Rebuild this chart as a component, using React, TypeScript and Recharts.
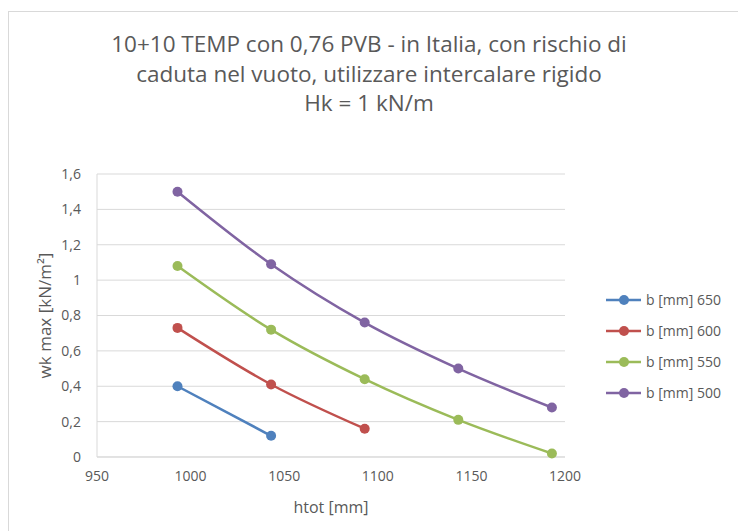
import { LineChart, Line, XAxis, YAxis, CartesianGrid } from "recharts";

const FONT = "'Open Sans', 'Liberation Sans', sans-serif";
const TEXT = "#595959";

const titleLines = [
  "10+10 TEMP con 0,76 PVB - in Italia, con rischio di",
  "caduta nel vuoto, utilizzare intercalare rigido",
  "Hk = 1 kN/m"
];

const xTicks = [950, 1000, 1050, 1100, 1150, 1200];
const yTicks = [0, 0.2, 0.4, 0.6, 0.8, 1, 1.2, 1.4, 1.6];

const htot = [993, 1043, 1093, 1143, 1193];

const b650 = [0.4, 0.12];
const b600 = [0.73, 0.41, 0.16];
const b550 = [1.08, 0.72, 0.44, 0.21, 0.02];
const b500 = [1.5, 1.09, 0.76, 0.5, 0.28];

const seriesNames = ["b [mm] 650", "b [mm] 600", "b [mm] 550", "b [mm] 500"];
const seriesColors = ["#4F81BD", "#C0504D", "#9BBB59", "#8064A2"];
const seriesValues = [b650, b600, b550, b500];

const series = seriesValues.map((vals, i) => ({
  name: seriesNames[i],
  color: seriesColors[i],
  data: vals.map((y, j) => ({ x: htot[j], y }))
}));

const fmt = (v: number) => String(v).replace(".", ",");

function LegendBox() {
  return (
    <div
      style={{
        position: "absolute",
        left: 606,
        top: 284,
        fontFamily: FONT,
        fontSize: 14,
        color: TEXT
      }}
    >
      {series.map((s) => (
        <div
          key={s.name}
          style={{ display: "flex", alignItems: "center", height: 31 }}
        >
          <svg width={36} height={12}>
            <line x1={0} y1={6} x2={35} y2={6} stroke={s.color} strokeWidth={2.5} />
            <circle cx={18} cy={6} r={5} fill={s.color} />
          </svg>
          <span style={{ marginLeft: 4 }}>{s.name}</span>
        </div>
      ))}
    </div>
  );
}

export default function App() {
  return (
    <div
      style={{
        position: "fixed",
        left: 0,
        top: 0,
        width: 738,
        height: 531,
        background: "#fff",
        fontFamily: FONT,
        overflow: "hidden"
      }}
    >
      <div
        style={{
          position: "absolute",
          left: 8,
          top: 11,
          width: 760,
          height: 560,
          border: "1px solid #D9D9D9"
        }}
      />
      <div
        style={{
          position: "absolute",
          left: 0,
          top: 29,
          width: 738,
          textAlign: "center",
          color: TEXT,
          fontSize: 22.5,
          lineHeight: "29.5px"
        }}
      >
        {titleLines.map((t) => (
          <div key={t}>{t}</div>
        ))}
      </div>
      <div style={{ position: "absolute", left: 0, top: 0 }}>
        <LineChart
          width={738}
          height={531}
          margin={{ top: 174, right: 173, bottom: 0, left: 47 }}
        >
          <CartesianGrid vertical={false} stroke="#D9D9D9" strokeWidth={1} />
          <XAxis
            type="number"
            dataKey="x"
            domain={[950, 1200]}
            ticks={xTicks}
            interval={0}
            allowDataOverflow
            height={74}
            tickLine={false}
            axisLine={{ stroke: "#D9D9D9" }}
            tick={{ fill: TEXT, fontSize: 14, fontFamily: FONT }}
            tickMargin={8}
            label={{
              value: "htot [mm]",
              position: "insideBottom",
              offset: 18,
              fill: TEXT,
              fontSize: 16,
              fontFamily: FONT
            }}
          />
          <YAxis
            type="number"
            dataKey="y"
            domain={[0, 1.6]}
            ticks={yTicks}
            interval={0}
            width={50}
            tickLine={false}
            axisLine={{ stroke: "#D9D9D9" }}
            tickFormatter={fmt}
            tick={{ fill: TEXT, fontSize: 14, fontFamily: FONT }}
            tickMargin={10}
            label={{
              value: "wk max [kN/m²]",
              angle: -90,
              position: "insideLeft",
              offset: -2,
              fill: TEXT,
              fontSize: 17,
              fontFamily: FONT,
              style: { textAnchor: "middle" }
            }}
          />
          {series.map((s) => (
            <Line
              key={s.name}
              data={s.data}
              dataKey="y"
              name={s.name}
              type="monotone"
              stroke={s.color}
              strokeWidth={2.5}
              dot={{ r: 5, fill: s.color, stroke: s.color, strokeWidth: 0 }}
              activeDot={false}
              isAnimationActive={false}
            />
          ))}
        </LineChart>
      </div>
      <LegendBox />
    </div>
  );
}
